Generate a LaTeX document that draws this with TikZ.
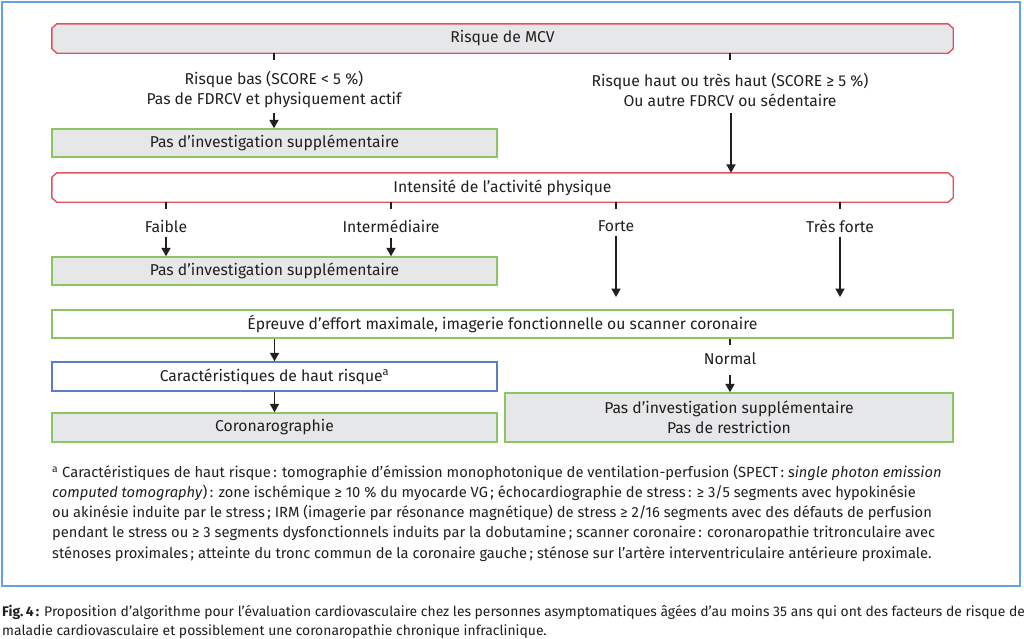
\documentclass[tikz,border=0pt]{standalone}
\usepackage{fontspec}
\setmainfont{Fira Sans}
\usetikzlibrary{arrows.meta,backgrounds}
\definecolor{redb}{RGB}{225,82,96}
\definecolor{greenb}{RGB}{140,198,98}
\definecolor{blueb}{RGB}{90,125,195}
\definecolor{frameb}{RGB}{100,160,228}
\definecolor{grayf}{RGB}{230,231,232}
\definecolor{txt}{RGB}{35,31,32}
\begin{document}
\begin{tikzpicture}[x=1pt,y=-1pt,
  every node/.style={text=txt, font=\fontsize{15.7}{20}\selectfont},
  box/.style={draw, line width=1.4pt, rectangle, inner sep=0pt, minimum height=28pt, align=center},
  chamf/.style={rectangle, inner sep=0pt, minimum width=901pt, minimum height=29pt},
  chline/.style={draw=redb, line width=1.4pt},
  arr/.style={line width=1.8pt, draw=txt, -{Triangle[width=9pt,length=8.5pt]}},
  tickl/.style={line width=1.8pt, draw=txt},
  lab/.style={align=center, inner sep=0pt}
]
\useasboundingbox (0,0) rectangle (1024,638);
\draw[frameb, line width=2pt] (2,2) rectangle (1020,586);

% row 1
\node[chamf] (mcv) at (502.5,38.5) {Risque de MCV};
\node[chamf] (intens) at (502.5,187.5) {Intensité de l’activité physique};
\begin{scope}[on background layer]
\fill[white] (0,0) rectangle (1024,638);
\foreach \b/\f in {mcv/grayf,intens/white}{
  \draw[chline, fill=\f] ([xshift=5pt]\b.north west) -- ([xshift=-5pt]\b.north east)
    -- ([yshift=-4.5pt]\b.north east) -- ([yshift=4.5pt]\b.south east)
    -- ([xshift=-5pt]\b.south east) -- ([xshift=5pt]\b.south west)
    -- ([yshift=4.5pt]\b.south west) -- ([yshift=-4.5pt]\b.north west) -- cycle;
}
\end{scope}
\coordinate (t1) at (274,60);
\coordinate (t2) at (730,60);
\draw[tickl] (mcv.south -| t1) -- (t1);
\draw[tickl] (mcv.south -| t2) -- (t2);
\node[lab] (low) at (274,90) {Risque bas (SCORE < 5~\%)\\Pas de FDRCV et physiquement actif};
\node[lab] (high) at (730,90) {Risque haut ou très haut (SCORE ≥ 5~\%)\\Ou autre FDRCV ou sédentaire};
\node[box, draw=greenb, fill=grayf, minimum width=445pt] (pas1) at (274.5,143) {Pas d’investigation supplémentaire};
\coordinate (la) at (274,113);
\coordinate (ha) at (731,113);
\draw[arr] (la) -- (la |- pas1.north);
\draw[arr] (ha) -- (ha |- intens.north);

% row 2
\foreach \n/\x in {a/166,b/391,c/616,d/840}{
  \coordinate (k\n) at (\x,209);
  \draw[tickl] (intens.south -| k\n) -- (k\n);
}
\node[lab] (faible) at (166,226) {Faible};
\node[lab] (inter) at (391,226) {Intermédiaire};
\node[lab] (forte) at (616,226) {Forte};
\node[lab] (tforte) at (840,226) {Très forte};
\node[box, draw=greenb, fill=grayf, minimum width=445pt] (pas2) at (274.5,271) {Pas d’investigation supplémentaire};
\draw[arr] ([yshift=-5pt]faible.south) -- (faible.south |- pas2.north);
\draw[arr] ([yshift=-5pt]inter.south) -- (inter.south |- pas2.north);

\node[box, draw=greenb, fill=white, minimum width=901pt] (epr) at (502.5,324) {Épreuve d’effort maximale, imagerie fonctionnelle ou scanner coronaire};
\coordinate (fe) at (616,297);
\coordinate (tfe) at (840,297);
\draw[arr] ([yshift=-4pt]forte.south) -- (fe);
\draw[arr] ([yshift=-4pt]tforte.south) -- (tfe);

% row 3
\node[box, draw=blueb, fill=white, minimum width=445pt, minimum height=29pt] (carac) at (274.5,376.5) {Caractéristiques de haut risque\textsuperscript{a}};
\node[box, draw=greenb, fill=grayf, minimum width=445pt, minimum height=29pt] (coro) at (274.5,427.5) {Coronarographie};
\draw[arr] (epr.south -| carac.north) -- (carac.north);
\draw[arr] (carac.south) -- (coro.north);

\coordinate (tn) at (730,345);
\draw[tickl] (epr.south -| tn) -- (tn);
\node[lab] (normal) at (730,359) {Normal};
\node[box, draw=greenb, fill=grayf, minimum width=448pt, minimum height=49pt] (pasr) at (729,417.5) {Pas d’investigation supplémentaire\\Pas de restriction};
\coordinate (na) at (730,375);
\draw[arr] (na) -- (na |- pasr.north);

% footnote
\node[anchor=west, align=left, inner sep=0pt, font=\fontsize{14.7}{20.2}\selectfont] (fn) at (52,513) {%
\textsuperscript{a} Caractéristiques de haut risque\,: tomographie d'émission monophotonique de ventilation-perfusion (SPECT\,: \textit{single photon emission}\\
\textit{computed tomography})\,: zone ischémique ≥ 10~\% du myocarde VG\,; échocardiographie de stress\,: ≥ 3/5 segments avec hypokinésie\\
ou akinésie induite par le stress\,; IRM (imagerie par résonance magnétique) de stress ≥ 2/16 segments avec des défauts de perfusion\\
pendant le stress ou ≥ 3 segments dysfonctionnels induits par la dobutamine\,; scanner coronaire\,: coronaropathie tritronculaire avec\\
sténoses proximales\,; atteinte du tronc commun de la coronaire gauche\,; sténose sur l'artère interventriculaire antérieure proximale.};

% caption
\node[anchor=west, align=left, inner sep=0pt, font=\fontsize{13.9}{19}\selectfont] (cap) at (2,622) {%
\textbf{Fig.\,4\,:} Proposition d'algorithme pour l'évaluation cardiovasculaire chez les personnes asymptomatiques âgées d'au moins 35 ans qui ont des facteurs de risque de\\
maladie cardiovasculaire et possiblement une coronaropathie chronique infraclinique.};
\end{tikzpicture}
\end{document}
